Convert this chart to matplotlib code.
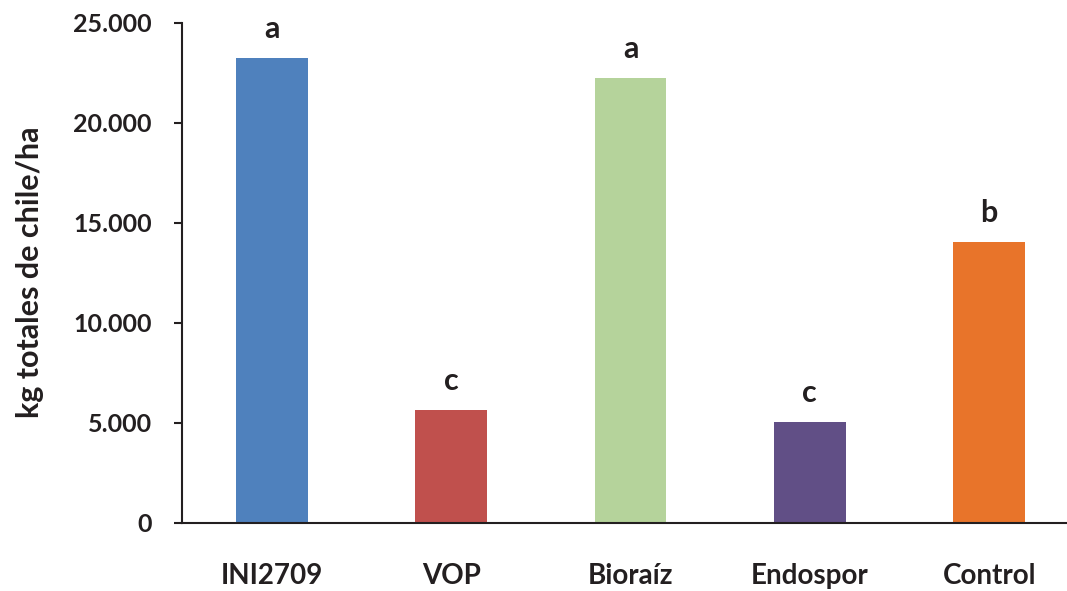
import matplotlib
matplotlib.use("Agg")
import matplotlib.pyplot as plt
from matplotlib.ticker import FuncFormatter

plt.rcParams['font.family'] = ['Lato', 'DejaVu Sans']

categories = ["INI2709", "VOP", "Bioraíz", "Endospor", "Control"]
values = [23230, 5630, 22230, 5030, 14030]
letters = ["a", "c", "a", "c", "b"]
colors = ["#4F81BD", "#C0504D", "#B5D39B", "#614F86", "#E8742A"]
yticks = [0, 5000, 10000, 15000, 20000, 25000]

text_color = "#231F20"

fig = plt.figure(figsize=(10.67, 5.91), dpi=100)
ax = fig.add_axes([182.3 / 1067, 1 - 522.7 / 591, 896.5 / 1067, 500 / 591])

x = list(range(len(categories)))
ax.bar(x, values, width=0.4, color=colors, zorder=2)

for xi, v, lab in zip(x, values, letters):
    ax.text(xi, v + 1000, lab, ha="center", va="baseline",
            fontsize=22, fontweight="bold", color=text_color)

ax.set_xlim(-0.5, len(categories) - 0.5)
ax.set_ylim(0, 25000)
ax.set_yticks(yticks)
ax.yaxis.set_major_formatter(FuncFormatter(lambda v, p: f"{int(v):,}".replace(",", ".")))
ax.set_xticks(x)
ax.set_xticklabels(categories)

ax.tick_params(axis="y", length=6, width=1.5, color=text_color, pad=16,
               labelsize=18, labelcolor=text_color)
ax.tick_params(axis="x", length=0, pad=29, labelsize=20, labelcolor=text_color)
for lab in ax.get_xticklabels() + ax.get_yticklabels():
    lab.set_fontweight("bold")

for side in ["top", "right"]:
    ax.spines[side].set_visible(False)
for side in ["left", "bottom"]:
    ax.spines[side].set_linewidth(1.5)
    ax.spines[side].set_color(text_color)

ax.set_ylabel("kg totales de chile/ha", fontsize=22, fontweight="bold",
              color=text_color, labelpad=21)

fig.savefig("out.png", dpi=100)
